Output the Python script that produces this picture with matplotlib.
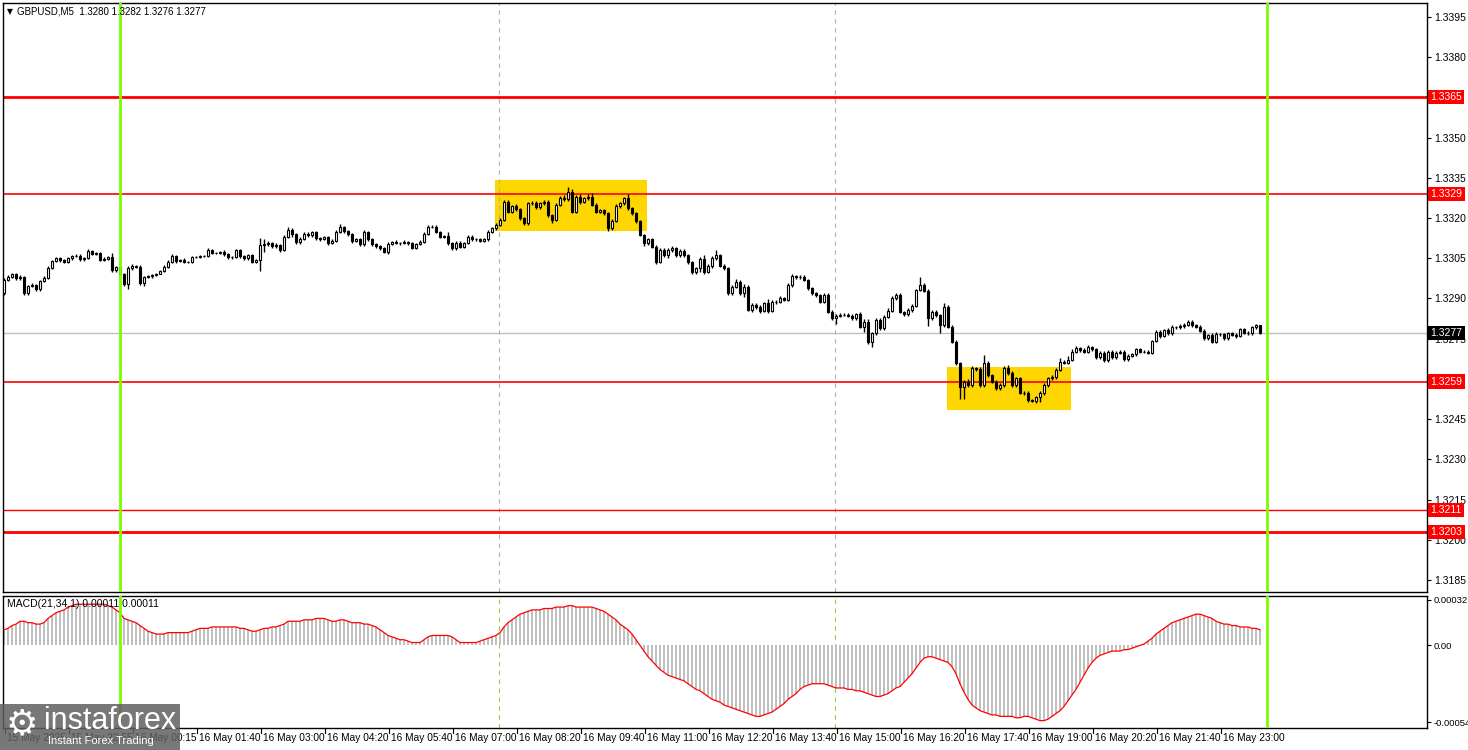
import matplotlib
matplotlib.use("Agg")
import matplotlib.pyplot as plt
from matplotlib.patches import Rectangle
import numpy as np

# GBPUSD M5, 15-16 May 2025 -- closes (open = previous close)
first_open = 1.32919
closes = [
    1.32969, 1.32981, 1.32990, 1.32975, 1.32981, 1.32919, 1.32947, 1.32950, 1.32935, 1.32965,
    1.32977, 1.33015, 1.33039, 1.33049, 1.33042, 1.33037, 1.33049, 1.33058, 1.33059, 1.33046,
    1.33052, 1.33077, 1.33067, 1.33069, 1.33044, 1.33047, 1.33055, 1.33006, 1.33016, 1.32990,
    1.32952, 1.33012, 1.33022, 1.33018, 1.32956, 1.32981, 1.32982, 1.32987, 1.32993, 1.33002,
    1.33018, 1.33037, 1.33059, 1.33039, 1.33043, 1.33037, 1.33036, 1.33054, 1.33056, 1.33057,
    1.33058, 1.33079, 1.33069, 1.33069, 1.33074, 1.33064, 1.33053, 1.33056, 1.33079, 1.33057,
    1.33049, 1.33062, 1.33037, 1.33042, 1.33099, 1.33103, 1.33105, 1.33094, 1.33099, 1.33082,
    1.33130, 1.33155, 1.33139, 1.33109, 1.33122, 1.33141, 1.33136, 1.33146, 1.33126, 1.33122,
    1.33129, 1.33107, 1.33114, 1.33149, 1.33166, 1.33151, 1.33139, 1.33114, 1.33122, 1.33102,
    1.33146, 1.33122, 1.33102, 1.33094, 1.33087, 1.33074, 1.33104, 1.33112, 1.33107, 1.33107,
    1.33112, 1.33107, 1.33089, 1.33104, 1.33112, 1.33141, 1.33166, 1.33168, 1.33149, 1.33131,
    1.33133, 1.33106, 1.33087, 1.33108, 1.33093, 1.33106, 1.33131, 1.33121, 1.33120, 1.33116,
    1.33121, 1.33149, 1.33162, 1.33174, 1.33193, 1.33261, 1.33224, 1.33243, 1.33233, 1.33199,
    1.33180, 1.33255, 1.33257, 1.33240, 1.33255, 1.33261, 1.33211, 1.33193, 1.33249, 1.33274,
    1.33270, 1.33298, 1.33224, 1.33280, 1.33261, 1.33274, 1.33280, 1.33249, 1.33224, 1.33230,
    1.33218, 1.33162, 1.33190, 1.33243, 1.33255, 1.33274, 1.33236, 1.33218, 1.33187, 1.33137,
    1.33106, 1.33121, 1.33093, 1.33037, 1.33081, 1.33062, 1.33081, 1.33087, 1.33062, 1.33078,
    1.33062, 1.33037, 1.33000, 1.33013, 1.33046, 1.33000, 1.33021, 1.33050, 1.33062, 1.33021,
    1.33013, 1.32919, 1.32944, 1.32963, 1.32919, 1.32944, 1.32857, 1.32876, 1.32867, 1.32855,
    1.32882, 1.32855, 1.32885, 1.32888, 1.32901, 1.32895, 1.32950, 1.32982, 1.32979, 1.32981,
    1.32969, 1.32938, 1.32919, 1.32913, 1.32888, 1.32913, 1.32851, 1.32826, 1.32835, 1.32839,
    1.32838, 1.32835, 1.32826, 1.32842, 1.32795, 1.32813, 1.32739, 1.32770, 1.32820, 1.32789,
    1.32832, 1.32854, 1.32900, 1.32913, 1.32851, 1.32841, 1.32857, 1.32872, 1.32931, 1.32950,
    1.32929, 1.32826, 1.32851, 1.32838, 1.32801, 1.32869, 1.32795, 1.32739, 1.32658, 1.32571,
    1.32590, 1.32577, 1.32639, 1.32637, 1.32577, 1.32660, 1.32614, 1.32590, 1.32565, 1.32577,
    1.32639, 1.32621, 1.32577, 1.32602, 1.32549, 1.32546, 1.32521, 1.32519, 1.32531, 1.32546,
    1.32577, 1.32602, 1.32606, 1.32633, 1.32664, 1.32660, 1.32670, 1.32701, 1.32714, 1.32708,
    1.32701, 1.32718, 1.32710, 1.32680, 1.32698, 1.32670, 1.32701, 1.32680, 1.32698, 1.32701,
    1.32673, 1.32685, 1.32693, 1.32710, 1.32701, 1.32701, 1.32698, 1.32742, 1.32776, 1.32760,
    1.32782, 1.32770, 1.32792, 1.32792, 1.32797, 1.32801, 1.32811, 1.32801, 1.32795, 1.32780,
    1.32751, 1.32764, 1.32739, 1.32767, 1.32767, 1.32751, 1.32770, 1.32764, 1.32760, 1.32785,
    1.32772, 1.32770, 1.32792, 1.32800, 1.32770,
]

# wick lengths above / below the body, in pips
upper_wick = [
    0.8, 0.6, 0.5, 0.6, 0.8, 0.4, 0.3, 0.6, 0.5, 0.4, 0.8, 0.5, 0.6, 0.7, 0.5, 0.4, 0.6, 0.4, 0.8, 0.5,
    0.4, 0.6, 0.5, 0.5, 0.4, 0.6, 0.5, 1.5, 0.4, 0.6, 0.5, 0.8, 0.5, 0.4, 0.6, 0.3, 0.4, 0.5, 0.3, 0.4,
    0.5, 0.6, 0.5, 0.4, 0.5, 0.6, 0.3, 0.4, 0.3, 0.4, 0.4, 0.8, 0.5, 0.6, 0.4, 0.5, 0.4, 0.3, 0.6, 0.5,
    0.4, 0.5, 0.4, 0.5, 2.5, 2.0, 0.8, 0.6, 0.7, 0.5, 0.8, 1.2, 0.6, 0.5, 0.7, 0.5, 0.6, 0.4, 0.6, 0.5,
    0.5, 0.4, 0.7, 0.8, 1.0, 0.6, 0.5, 0.5, 0.4, 0.5, 0.8, 0.6, 0.4, 0.3, 0.5, 0.4, 0.5, 0.4, 0.5, 0.4,
    0.5, 0.4, 0.5, 0.4, 0.5, 0.8, 0.8, 0.5, 0.6, 0.4, 0.5, 1.5, 0.4, 0.6, 0.5, 0.4, 0.5, 0.5, 0.4, 0.5,
    0.4, 0.5, 0.6, 0.8, 0.6, 0.5, 0.7, 0.6, 0.8, 0.5, 0.4, 0.6, 0.5, 0.7, 0.5, 0.8, 0.5, 0.4, 0.6, 0.7,
    1.2, 1.6, 1.0, 0.6, 0.8, 0.6, 0.8, 1.5, 0.6, 0.5, 0.5, 0.6, 0.6, 0.8, 0.5, 0.6, 1.5, 0.4, 0.5, 0.5,
    0.4, 0.6, 0.5, 0.5, 0.6, 0.6, 0.8, 0.7, 0.5, 0.6, 0.5, 0.5, 0.4, 0.5, 0.8, 1.5, 0.6, 0.8, 1.8, 0.4,
    0.8, 0.5, 0.6, 0.8, 0.5, 0.8, 0.5, 0.6, 0.8, 0.7, 0.6, 1.5, 0.8, 0.7, 0.9, 0.6, 0.8, 0.9, 0.6, 0.7,
    0.5, 0.4, 0.5, 0.6, 0.5, 0.7, 0.6, 0.5, 0.6, 0.7, 0.8, 0.6, 0.7, 0.5, 0.8, 1.0, 1.2, 0.6, 0.8, 0.6,
    0.8, 0.9, 1.0, 0.6, 0.8, 0.4, 0.6, 0.8, 0.6, 3.0, 0.6, 0.8, 0.7, 0.6, 0.5, 1.5, 0.8, 0.6, 0.5, 0.6,
    0.6, 0.8, 0.8, 0.6, 0.7, 2.8, 0.7, 0.6, 0.5, 0.6, 0.8, 1.2, 0.7, 0.6, 0.6, 0.5, 0.7, 0.5, 0.6, 0.8,
    0.6, 0.6, 0.8, 0.7, 1.2, 0.6, 1.5, 0.9, 0.8, 0.6, 0.7, 0.9, 0.5, 0.6, 0.6, 0.5, 0.7, 0.6, 0.5, 0.5,
    0.5, 0.6, 0.5, 0.5, 0.6, 0.6, 0.5, 0.4, 0.8, 0.6, 0.5, 0.6, 0.8, 0.6, 0.7, 0.6, 0.8, 0.7, 0.5, 0.6,
    0.5, 0.5, 0.6, 0.6, 0.5, 0.5, 0.6, 0.5, 0.6, 0.6, 0.6, 0.5, 0.6, 0.5, 0.2,
]
lower_wick = [
    0.6, 0.5, 0.6, 0.8, 0.5, 0.7, 0.5, 0.6, 0.6, 0.7, 0.5, 0.4, 0.5, 0.4, 0.6, 0.5, 0.4, 0.5, 0.3, 0.6,
    0.5, 0.4, 0.6, 0.5, 0.6, 0.4, 0.5, 0.8, 0.6, 0.5, 0.7, 1.5, 0.5, 0.6, 0.5, 0.8, 0.4, 0.5, 0.4, 0.3,
    0.4, 0.5, 0.4, 0.6, 0.4, 0.5, 0.5, 0.4, 0.5, 0.4, 0.4, 0.5, 0.5, 0.4, 0.5, 0.6, 0.5, 0.5, 0.4, 0.6,
    0.5, 0.4, 0.6, 0.5, 3.8, 2.5, 0.6, 0.7, 0.5, 0.8, 0.6, 0.5, 0.8, 0.6, 0.7, 0.5, 0.6, 0.5, 0.7, 0.6,
    0.5, 0.6, 0.5, 0.4, 0.5, 0.6, 0.5, 0.6, 0.5, 0.7, 0.6, 0.6, 0.5, 0.6, 0.5, 0.6, 0.8, 0.5, 0.5, 0.6,
    0.5, 0.6, 0.5, 0.6, 0.5, 0.5, 0.4, 0.5, 0.6, 0.5, 0.5, 0.8, 0.6, 0.5, 0.6, 0.5, 0.4, 0.5, 0.5, 0.6,
    0.6, 0.5, 0.5, 0.6, 0.5, 0.5, 0.6, 0.5, 0.6, 0.6, 0.6, 0.5, 0.5, 0.6, 0.5, 0.6, 0.7, 1.2, 0.5, 0.5,
    0.6, 0.5, 0.5, 0.6, 0.8, 0.5, 0.5, 0.6, 0.7, 0.5, 0.7, 1.0, 0.6, 0.5, 0.5, 0.5, 0.6, 0.5, 0.6, 0.5,
    1.2, 0.5, 0.6, 0.8, 0.6, 0.7, 1.0, 0.8, 0.6, 0.7, 0.6, 0.7, 0.8, 0.7, 1.5, 1.0, 0.6, 0.7, 0.6, 0.5,
    0.6, 0.8, 0.6, 0.5, 0.7, 1.5, 0.5, 0.8, 0.7, 0.8, 0.6, 0.8, 0.7, 0.6, 0.5, 0.6, 0.5, 0.6, 0.5, 0.5,
    0.5, 0.6, 0.5, 0.6, 0.6, 0.5, 0.6, 0.6, 2.2, 0.5, 0.5, 0.6, 0.5, 0.5, 0.5, 2.0, 0.8, 2.0, 0.6, 0.7,
    0.6, 0.5, 0.6, 0.5, 0.6, 0.8, 0.5, 0.6, 0.5, 0.5, 0.6, 3.0, 0.5, 0.6, 3.0, 0.6, 0.6, 0.7, 0.6, 4.5,
    4.5, 0.8, 0.6, 0.6, 0.8, 0.6, 0.8, 0.6, 0.7, 0.8, 0.6, 0.5, 0.6, 0.8, 0.7, 0.6, 0.8, 0.6, 1.0, 1.6,
    0.6, 0.7, 0.6, 0.6, 0.5, 0.6, 0.6, 0.5, 0.6, 0.7, 0.6, 0.5, 0.6, 0.6, 0.5, 0.7, 0.6, 0.6, 0.5, 0.5,
    0.6, 0.6, 0.5, 0.6, 0.5, 0.5, 0.6, 0.5, 0.5, 0.6, 0.5, 0.6, 0.5, 0.6, 0.5, 0.6, 0.5, 0.6, 0.6, 0.5,
    0.6, 0.5, 0.6, 0.5, 0.6, 0.5, 0.6, 0.5, 0.6, 0.5, 0.6, 0.5, 0.5, 0.6, 0.1,
]

# MACD(21,34,1) histogram, in units of 1e-5
macd_e5 = [
    11, 12, 14, 15, 17, 17, 16, 16, 15, 15, 16, 19, 21, 23, 24, 25, 27, 28, 29, 29,
    29, 29, 29, 29, 29, 29, 28, 27, 25, 23, 19, 18, 17, 16, 14, 12, 10, 9, 8, 8,
    8, 9, 9, 9, 9, 9, 9, 10, 11, 12, 12, 12, 13, 13, 13, 13, 13, 13, 13, 12,
    12, 11, 10, 10, 11, 12, 12, 13, 13, 14, 15, 17, 17, 17, 17, 18, 18, 18, 19, 19,
    19, 18, 17, 17, 18, 18, 17, 16, 16, 16, 15, 15, 14, 13, 11, 9, 7, 6, 5, 4,
    4, 3, 2, 2, 2, 4, 6, 7, 7, 7, 7, 7, 6, 4, 2, 2, 2, 2, 2, 3,
    4, 5, 6, 7, 9, 13, 16, 18, 20, 22, 23, 24, 25, 25, 25, 26, 26, 26, 27, 27,
    27, 28, 28, 27, 27, 27, 27, 27, 26, 25, 24, 22, 20, 18, 15, 13, 11, 8, 4, 0,
    -4, -8, -11, -14, -17, -19, -21, -22, -23, -24, -25, -27, -29, -31, -32, -34, -36, -38, -39, -40,
    -42, -43, -44, -45, -46, -47, -48, -49, -50, -50, -49, -48, -47, -45, -43, -41, -38, -36, -34, -31,
    -29, -28, -27, -27, -27, -27, -28, -29, -30, -30, -30, -31, -31, -32, -32, -33, -34, -35, -36, -36,
    -35, -34, -32, -30, -29, -26, -23, -20, -16, -12, -9, -8, -8, -9, -10, -11, -12, -15, -20, -27,
    -33, -38, -42, -44, -46, -47, -48, -49, -49, -50, -50, -50, -50, -51, -51, -50, -50, -51, -52, -53,
    -53, -52, -50, -48, -46, -43, -39, -35, -31, -26, -21, -16, -12, -9, -7, -6, -5, -4, -4, -4,
    -3, -3, -2, -1, 0, 1, 3, 5, 8, 10, 12, 14, 16, 17, 18, 19, 20, 21, 22, 22,
    21, 20, 19, 17, 16, 15, 15, 14, 14, 13, 13, 13, 12, 12, 11,
]

time_labels = ["15 May 2025", "15 May 22:55", "16 May 00:15", "16 May 01:40", "16 May 03:00",
               "16 May 04:20", "16 May 05:40", "16 May 07:00", "16 May 08:20", "16 May 09:40",
               "16 May 11:00", "16 May 12:20", "16 May 13:40", "16 May 15:00", "16 May 16:20",
               "16 May 17:40", "16 May 19:00", "16 May 20:20", "16 May 21:40", "16 May 23:00"]
label_bars = [0, 16, 32, 48, 64, 80, 96, 112, 128, 144, 160, 176, 192, 208, 224, 240, 256, 272, 288, 304]

price_ticks = [1.3395, 1.3380, 1.3365, 1.3350, 1.3335, 1.3320, 1.3305, 1.3290, 1.3275,
               1.3260, 1.3245, 1.3230, 1.3215, 1.3200, 1.3185]
hidden_tick_labels = [1.3365, 1.3260]   # covered by level tags on the scale
levels = [1.3365, 1.3329, 1.3259, 1.3211, 1.3203]
level_widths = [2, 1.2, 1.2, 1, 2]
last_price = 1.3277
zones = [(122.75, 160.75, 1.33152, 1.33342), (235.75, 266.75, 1.32484, 1.32645)]
green_bars = [29, 315.75]
dashed_bars = [123.75, 207.75]

n = len(closes)
c = np.array(closes)
o = np.concatenate([[first_open], c[:-1]])
hi = np.maximum(o, c) + np.array(upper_wick) * 1e-4
lo = np.minimum(o, c) - np.array(lower_wick) * 1e-4
macd = np.array(macd_e5) * 1e-5
x = np.arange(n)

plt.rcParams["font.family"] = ["Liberation Sans", "DejaVu Sans"]
fig = plt.figure(figsize=(14.68, 7.5), dpi=100)
W, H = 1468, 750
ax = fig.add_axes([3 / W, 1 - 592 / H, 1424 / W, 589 / H])
ax2 = fig.add_axes([3 / W, 1 - 728 / H, 1424 / W, 132 / H])

xmin, xmax = -0.25, 355.75
for a in (ax, ax2):
    a.set_xlim(xmin, xmax)
    for s in a.spines.values():
        s.set_linewidth(1)
        s.set_color("black")
    a.set_xticks([])
    a.yaxis.tick_right()
    a.tick_params(axis="y", length=3, width=0.8, labelsize=7.5, pad=2, colors="black")

ax.set_ylim(1.31805, 1.34002)
ax2.set_ylim(-0.000582, 0.000348)

# zones and levels
for b0, b1, p0, p1 in zones:
    ax.add_patch(Rectangle((b0, p0), b1 - b0, p1 - p0, facecolor="#FFD700", edgecolor="none", zorder=1))
for lv, lw in zip(levels, level_widths):
    ax.axhline(lv, color="#FF0000", lw=lw, zorder=2)
ax.axhline(last_price, color="#C0C0C0", lw=1, zorder=1.5)
for b in dashed_bars:
    ax.axvline(b, color="#B0B0B0", lw=0.8, ls=(0, (4, 4)), zorder=1.5)
    ax2.axvline(b, color="#9ACD32", lw=0.8, ls=(0, (4, 4)), zorder=1.5)

# candles
ax.vlines(x, lo, hi, color="black", lw=1.0, zorder=3)
up = c >= o
body_bot = np.minimum(o, c)
body_h = np.abs(c - o)
ax.bar(x[up], body_h[up], bottom=body_bot[up], width=0.72, color="white",
       edgecolor="black", linewidth=0.8, zorder=4)
ax.bar(x[~up], body_h[~up], bottom=body_bot[~up], width=0.72, color="black",
       edgecolor="black", linewidth=0.8, zorder=4)

# MACD
ax2.bar(x, macd, width=0.55, color="#C0C0C0", zorder=2)
ax2.plot(x, macd, color="#FF0000", lw=0.9, zorder=3)

# green vertical lines through both panels
for b in green_bars:
    ax.axvline(b, color="#7CFC00", lw=2, zorder=5)
    ax2.axvline(b, color="#7CFC00", lw=2, zorder=5)

ax.set_yticks(price_ticks)
ax.set_yticklabels(["" if p in hidden_tick_labels else f"{p:.4f}" for p in price_ticks])
ax2.set_yticks([0.00032, 0.0, -0.00054])
ax2.set_yticklabels(["0.00032", "0.00", "-0.00054"])
ax2.tick_params(axis="y", labelsize=6.8, pad=1.5)

# level tags on the price scale
ytr = ax.get_yaxis_transform()
for lv in levels:
    ax.text(1.0025, lv, f"{lv:.4f}", transform=ytr, fontsize=7.5, color="white", va="center",
            ha="left", bbox=dict(facecolor="#FF0000", edgecolor="none", pad=1.5), zorder=10,
            clip_on=False)
ax.text(1.0025, last_price, f"{last_price:.4f}", transform=ytr, fontsize=7.5, color="white",
        va="center", ha="left", bbox=dict(facecolor="black", edgecolor="none", pad=1.5),
        zorder=10, clip_on=False)

# time axis
xtr = ax2.get_xaxis_transform()
for b, lab in zip(label_bars, time_labels):
    xp = b + 0.25
    ax2.plot([xp, xp], [0, -0.035], transform=xtr, color="black", lw=0.8, clip_on=False)
    ax2.text(xp + 0.5, -0.04, lab, transform=xtr, fontsize=7.3, ha="left", va="top")

# headers
fig.text(7 / W, 1 - 12 / H, "\u25BC", fontsize=5.5, va="center", family="DejaVu Sans")
fig.text(17 / W, 1 - 12 / H, "GBPUSD,M5  1.3280 1.3282 1.3276 1.3277", fontsize=7, va="center")
fig.text(7 / W, 1 - 604 / H, "MACD(21,34,1) 0.00011 0.00011", fontsize=7.5, va="center")

# watermark
fig.patches.append(Rectangle((0, 0), 180 / W, 46 / H, transform=fig.transFigure,
                             facecolor="#606060", alpha=0.85, edgecolor="none", zorder=20))
fig.text(6 / W, 1 - 724 / H, "\u2699", fontsize=26, color="white", va="center", zorder=21,
         family="DejaVu Sans")
fig.text(44 / W, 1 - 721 / H, "instaforex", fontsize=22, color="white", va="center", zorder=21)
fig.text(48 / W, 1 - 741 / H, "Instant Forex Trading", fontsize=8, color="white",
         va="center", zorder=21)

fig.savefig("out.png", dpi=100, facecolor="white")
